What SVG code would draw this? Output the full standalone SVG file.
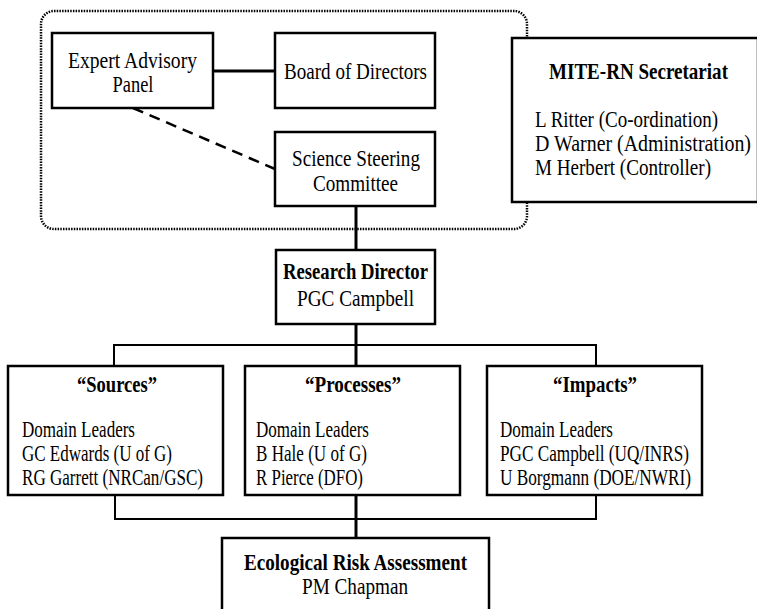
<svg xmlns="http://www.w3.org/2000/svg" width="757" height="609" viewBox="0 0 757 609">
  <style>
    text { font-family: "Liberation Serif", "Times New Roman", serif; font-size: 23px; fill: #000; }
    .b { font-weight: bold; }
    .m { text-anchor: middle; }
    .box { fill: #fff; stroke: #000; stroke-width: 2.5; }
    .wire { fill: none; stroke: #000; stroke-width: 3; }
    .bus { fill: none; stroke: #000; stroke-width: 2; }
    .dash { fill: none; stroke: #000; stroke-width: 2.5; stroke-dasharray: 11 7; }
    .group { fill: none; stroke: #000; stroke-width: 2.5; stroke-dasharray: 1.5 1.2; }
  </style>

  <!-- governance group outline -->
  <rect class="group" x="41" y="11" width="486" height="218" rx="13"/>

  <g id="connectors">
    <line class="wire" x1="213" y1="71" x2="275" y2="71"/>
    <line class="dash" x1="133" y1="108" x2="275" y2="169"/>
    <line class="wire" x1="356" y1="206" x2="356" y2="250"/>
    <line class="wire" x1="356" y1="324" x2="356" y2="366"/>
    <polyline class="bus" points="114,366 114,345 596,345 596,366"/>
    <line class="wire" x1="356" y1="495" x2="356" y2="538"/>
    <polyline class="bus" points="115,495 115,519 596,519 596,495"/>
  </g>

  <g id="expert-advisory-panel">
    <rect class="box" x="52" y="33" width="161" height="75"/>
    <text class="m" x="132.5" y="68" textLength="129" lengthAdjust="spacingAndGlyphs">Expert Advisory</text>
    <text class="m" x="133" y="92" textLength="41" lengthAdjust="spacingAndGlyphs">Panel</text>
  </g>

  <g id="board-of-directors">
    <rect class="box" x="275" y="33" width="160" height="75"/>
    <text class="m" x="355.5" y="79" textLength="143" lengthAdjust="spacingAndGlyphs">Board of Directors</text>
  </g>

  <g id="science-steering-committee">
    <rect class="box" x="275" y="132" width="160" height="74"/>
    <text class="m" x="356" y="166" textLength="128" lengthAdjust="spacingAndGlyphs">Science Steering</text>
    <text class="m" x="355.5" y="191" textLength="85" lengthAdjust="spacingAndGlyphs">Committee</text>
  </g>

  <g id="secretariat">
    <rect class="box" x="512" y="38" width="246" height="164"/>
    <text class="b m" x="638.5" y="79" textLength="179" lengthAdjust="spacingAndGlyphs">MITE-RN Secretariat</text>
    <text x="535" y="127" textLength="183" lengthAdjust="spacingAndGlyphs">L Ritter (Co-ordination)</text>
    <text x="535" y="151" textLength="216" lengthAdjust="spacingAndGlyphs">D Warner (Administration)</text>
    <text x="535" y="175" textLength="176" lengthAdjust="spacingAndGlyphs">M Herbert (Controller)</text>
  </g>

  <g id="research-director">
    <rect class="box" x="276" y="250" width="159" height="74"/>
    <text class="b m" x="355.5" y="279" textLength="145" lengthAdjust="spacingAndGlyphs">Research Director</text>
    <text class="m" x="355.5" y="306" textLength="117" lengthAdjust="spacingAndGlyphs">PGC Campbell</text>
  </g>

  <g id="sources">
    <rect class="box" x="8" y="366" width="215" height="129"/>
    <text class="b m" x="117" y="392" textLength="80" lengthAdjust="spacingAndGlyphs">“Sources”</text>
    <text x="22" y="437" textLength="113" lengthAdjust="spacingAndGlyphs">Domain Leaders</text>
    <text x="22" y="461" textLength="150" lengthAdjust="spacingAndGlyphs">GC Edwards (U of G)</text>
    <text x="22" y="485" textLength="181" lengthAdjust="spacingAndGlyphs">RG Garrett (NRCan/GSC)</text>
  </g>

  <g id="processes">
    <rect class="box" x="245" y="366" width="215" height="129"/>
    <text class="b m" x="353" y="392" textLength="96" lengthAdjust="spacingAndGlyphs">“Processes”</text>
    <text x="256" y="437" textLength="113" lengthAdjust="spacingAndGlyphs">Domain Leaders</text>
    <text x="256" y="461" textLength="111" lengthAdjust="spacingAndGlyphs">B Hale (U of G)</text>
    <text x="256" y="485" textLength="107" lengthAdjust="spacingAndGlyphs">R Pierce (DFO)</text>
  </g>

  <g id="impacts">
    <rect class="box" x="487" y="366" width="215" height="129"/>
    <text class="b m" x="595" y="392" textLength="84" lengthAdjust="spacingAndGlyphs">“Impacts”</text>
    <text x="500" y="437" textLength="113" lengthAdjust="spacingAndGlyphs">Domain Leaders</text>
    <text x="500" y="461" textLength="189" lengthAdjust="spacingAndGlyphs">PGC Campbell (UQ/INRS)</text>
    <text x="500" y="485" textLength="191" lengthAdjust="spacingAndGlyphs">U Borgmann (DOE/NWRI)</text>
  </g>

  <g id="ecological-risk-assessment">
    <rect class="box" x="222" y="538" width="267" height="90"/>
    <text class="b m" x="355.5" y="570" textLength="223" lengthAdjust="spacingAndGlyphs">Ecological Risk Assessment</text>
    <text class="m" x="355" y="594" textLength="106" lengthAdjust="spacingAndGlyphs">PM Chapman</text>
  </g>
</svg>
